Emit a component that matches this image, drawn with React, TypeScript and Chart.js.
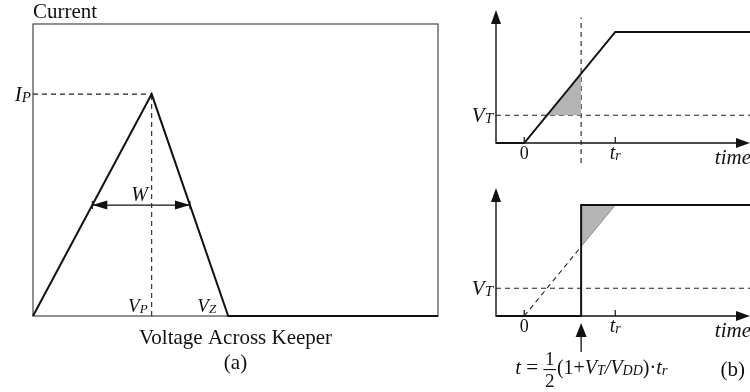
import React, { useEffect, useRef } from "react";
import { Chart, registerables } from "chart.js";

Chart.register(...registerables);

const WIDTH = 750;
const HEIGHT = 392;
const SERIF = '"Liberation Serif", "Times New Roman", Times, serif';
const INK = "#111";
const GUIDE = "#222";
const SHADE = "#b4b4b4";

// (a) keeper current versus the voltage across it
const keeperVoltage = [0, 2.93, 4.82, 10];
const keeperCurrent = [0, 7.6, 0, 0];
const voltageRange = [0, 10];
const currentRange = [0, 10];

// (b) input ramp and its equivalent step
const vThreshold = 0.25; // VT / VDD
const riseTime = 1; // tr
const timeRange = [-0.31, 2.48];
const rampTime = [timeRange[0], 0, riseTime, timeRange[1]];
const rampLevel = [0, 0, 1, 1];
const switchTime = 0.5 * (1 + vThreshold) * riseTime;
const stepTime = [timeRange[0], switchTime, switchTime, timeRange[1]];
const stepLevel = [0, 0, 1, 1];
const topLevelRange = [-0.18, 1.18];
const bottomLevelRange = [-0.18, 1.135];
const guideTop = 1.13;
const timeTicks = [0, riseTime];

const peakIndex = 1;
const peakVoltage = keeperVoltage[peakIndex];
const peakCurrent = keeperCurrent[peakIndex];
const zeroVoltage = keeperVoltage[2];
const halfCurrent = peakCurrent / 2;
const halfLeft = peakVoltage / 2;
const halfRight = peakVoltage + (zeroVoltage - peakVoltage) / 2;

const pts = (xs: number[], ys: number[]) => xs.map((x, i) => ({ x, y: ys[i] }));

const series = (data: { x: number; y: number }[], extra: any = {}) => ({
  data,
  showLine: true,
  pointRadius: 0,
  pointHoverRadius: 0,
  borderColor: INK,
  borderWidth: 2,
  fill: false,
  clip: false,
  tension: 0,
  ...extra,
});

const dashed = (data: { x: number; y: number }[]) =>
  series(data, { borderColor: GUIDE, borderWidth: 1.1, borderDash: [5, 4] });

type Run = { text: string; size: number; italic?: boolean; dy?: number };

function runsWidth(ctx: CanvasRenderingContext2D, runs: Run[]) {
  let w = 0;
  for (const r of runs) {
    ctx.font = `${r.italic ? "italic " : ""}${r.size}px ${SERIF}`;
    w += ctx.measureText(r.text).width;
  }
  return w;
}

function drawRuns(
  ctx: CanvasRenderingContext2D,
  runs: Run[],
  x: number,
  y: number,
  align: "left" | "right" | "center" = "left"
) {
  const total = runsWidth(ctx, runs);
  let cx = align === "left" ? x : align === "right" ? x - total : x - total / 2;
  ctx.textAlign = "left";
  ctx.textBaseline = "alphabetic";
  ctx.fillStyle = INK;
  for (const r of runs) {
    ctx.font = `${r.italic ? "italic " : ""}${r.size}px ${SERIF}`;
    ctx.fillText(r.text, cx, y + (r.dy || 0));
    cx += ctx.measureText(r.text).width;
  }
  return cx;
}

const symbol = (main: string, sub: string, size = 20): Run[] => [
  { text: main, size, italic: true },
  { text: sub, size: Math.round(size * 0.7), italic: true, dy: 1 },
];

function arrowHead(
  ctx: CanvasRenderingContext2D,
  tipX: number,
  tipY: number,
  dx: number,
  dy: number,
  len: number,
  half: number
) {
  const bx = tipX - dx * len;
  const by = tipY - dy * len;
  ctx.beginPath();
  ctx.moveTo(tipX, tipY);
  ctx.lineTo(bx - dy * half, by + dx * half);
  ctx.lineTo(bx + dy * half, by - dx * half);
  ctx.closePath();
  ctx.fillStyle = INK;
  ctx.fill();
}

const baseOptions = (
  padding: { left: number; right: number; top: number; bottom: number },
  xr: number[],
  yr: number[]
): any => ({
  responsive: false,
  animation: false,
  devicePixelRatio: 1,
  events: [],
  layout: { padding },
  plugins: { legend: { display: false }, tooltip: { enabled: false } },
  scales: {
    x: { type: "linear", min: xr[0], max: xr[1], display: false },
    y: { type: "linear", min: yr[0], max: yr[1], display: false },
  },
});

// Draws the L-shaped time axes of a (b) panel with their arrowheads and ticks
const axesPlugin = {
  id: "timeAxes",
  beforeDatasetsDraw(chart: any) {
    const { ctx, scales } = chart;
    const { x, y } = scales;
    const x0 = x.getPixelForValue(timeRange[0]);
    const x1 = x.getPixelForValue(timeRange[1]);
    const y0 = y.getPixelForValue(0);
    const yTop = chart.chartArea.top - 2;
    ctx.save();
    ctx.strokeStyle = INK;
    ctx.lineWidth = 1.4;
    ctx.beginPath();
    ctx.moveTo(x0, yTop + 8);
    ctx.lineTo(x0, y0);
    ctx.lineTo(x1 - 8, y0);
    ctx.stroke();
    arrowHead(ctx, x0, yTop, 0, -1, 14, 5);
    arrowHead(ctx, x1, y0, 1, 0, 14, 5);
    ctx.lineWidth = 1.2;
    for (const t of timeTicks) {
      const px = x.getPixelForValue(t);
      ctx.beginPath();
      ctx.moveTo(px, y0);
      ctx.lineTo(px, y0 - 6);
      ctx.stroke();
    }
    ctx.restore();
  },
};

const timeLabels = (chart: any) => {
  const { ctx, scales } = chart;
  const { x, y } = scales;
  const y0 = y.getPixelForValue(0);
  const xAxis = x.getPixelForValue(timeRange[0]);
  drawRuns(ctx, symbol("V", "T", 21), xAxis - 3, y.getPixelForValue(vThreshold) + 7, "right");
  drawRuns(ctx, [{ text: "0", size: 18 }], x.getPixelForValue(0), y0 + 16, "center");
  drawRuns(ctx, symbol("t", "r", 20), x.getPixelForValue(riseTime), y0 + 16, "center");
  drawRuns(ctx, [{ text: "time", size: 21, italic: true }], x.getPixelForValue(timeRange[1]) + 1, y0 + 21, "right");
};

export default function App() {
  const refA = useRef<HTMLCanvasElement>(null);
  const refTop = useRef<HTMLCanvasElement>(null);
  const refBottom = useRef<HTMLCanvasElement>(null);

  useEffect(() => {
    document.body.style.margin = "0";
    const charts: Chart[] = [];

    // (a) keeper characteristic in a framed plot
    charts.push(
      new Chart(refA.current as HTMLCanvasElement, {
        type: "scatter",
        data: {
          datasets: [
            series(pts(keeperVoltage, keeperCurrent)),
            dashed([
              { x: voltageRange[0], y: peakCurrent },
              { x: peakVoltage, y: peakCurrent },
            ]),
            dashed([
              { x: peakVoltage, y: 0 },
              { x: peakVoltage, y: peakCurrent },
            ]),
            series(
              [
                { x: halfLeft, y: halfCurrent },
                { x: halfRight, y: halfCurrent },
              ],
              { borderWidth: 1.2 }
            ),
          ] as any,
        },
        options: baseOptions(
          { left: 33, right: WIDTH - 438, top: 24, bottom: HEIGHT - 316 },
          voltageRange,
          currentRange
        ),
        plugins: [
          {
            id: "keeperFrame",
            beforeDatasetsDraw(chart: any) {
              const { ctx, chartArea: a } = chart;
              ctx.save();
              ctx.strokeStyle = "#555";
              ctx.lineWidth = 1.3;
              ctx.strokeRect(a.left, a.top, a.right - a.left, a.bottom - a.top);
              ctx.restore();
            },
            afterDatasetsDraw(chart: any) {
              const { ctx, chartArea: a, scales } = chart;
              const { x, y } = scales;
              ctx.save();
              const yW = y.getPixelForValue(halfCurrent);
              const xl = x.getPixelForValue(halfLeft);
              const xr = x.getPixelForValue(halfRight);
              arrowHead(ctx, xl, yW, -1, 0, 15, 4.5);
              arrowHead(ctx, xr, yW, 1, 0, 15, 4.5);
              ctx.strokeStyle = INK;
              ctx.lineWidth = 1;
              for (const px of [xl, xr]) {
                ctx.beginPath();
                ctx.moveTo(px, yW - 4);
                ctx.lineTo(px, yW + 4);
                ctx.stroke();
              }
              const xP = x.getPixelForValue(peakVoltage);
              const xZ = x.getPixelForValue(zeroVoltage);
              drawRuns(ctx, [{ text: "Current", size: 21 }], a.left, a.top - 6);
              drawRuns(ctx, symbol("I", "P", 21), a.left - 2, y.getPixelForValue(peakCurrent) + 7, "right");
              drawRuns(ctx, [{ text: "W", size: 20, italic: true }], xP - 12, yW - 4, "center");
              drawRuns(ctx, symbol("V", "P", 19), xP - 4, a.bottom - 4, "right");
              drawRuns(ctx, symbol("V", "Z", 19), xZ - 12, a.bottom - 4, "right");
              const cx = (a.left + a.right) / 2;
              drawRuns(ctx, [{ text: "Voltage Across Keeper", size: 21 }], cx, a.bottom + 28, "center");
              drawRuns(ctx, [{ text: "(a)", size: 21 }], cx, a.bottom + 53, "center");
              ctx.restore();
            },
          },
        ],
      })
    );

    // (b) upper: ramp input with threshold and switching instant
    charts.push(
      new Chart(refTop.current as HTMLCanvasElement, {
        type: "scatter",
        data: {
          datasets: [
            series(pts(rampTime, rampLevel)),
            series(
              [
                { x: vThreshold * riseTime, y: vThreshold },
                { x: switchTime, y: switchTime / riseTime },
              ],
              { borderWidth: 0, backgroundColor: SHADE, fill: { value: vThreshold } }
            ),
            dashed([
              { x: timeRange[0], y: vThreshold },
              { x: timeRange[1], y: vThreshold },
            ]),
            dashed([
              { x: switchTime, y: topLevelRange[0] },
              { x: switchTime, y: guideTop },
            ]),
          ] as any,
        },
        options: baseOptions(
          { left: 496, right: 0, top: 12, bottom: HEIGHT - 163 },
          timeRange,
          topLevelRange
        ),
        plugins: [
          axesPlugin,
          {
            id: "rampLabels",
            afterDatasetsDraw(chart: any) {
              chart.ctx.save();
              timeLabels(chart);
              chart.ctx.restore();
            },
          },
        ],
      })
    );

    // (b) lower: equivalent step input
    charts.push(
      new Chart(refBottom.current as HTMLCanvasElement, {
        type: "scatter",
        data: {
          datasets: [
            series(pts(stepTime, stepLevel)),
            series(
              [
                { x: switchTime, y: switchTime / riseTime },
                { x: riseTime, y: 1 },
              ],
              { borderWidth: 0.8, borderColor: "#777", backgroundColor: SHADE, fill: { value: 1 } }
            ),
            dashed([
              { x: 0, y: 0 },
              { x: switchTime, y: switchTime / riseTime },
            ]),
            dashed([
              { x: timeRange[0], y: vThreshold },
              { x: timeRange[1], y: vThreshold },
            ]),
          ] as any,
        },
        options: baseOptions(
          { left: 496, right: 0, top: 190, bottom: HEIGHT - 336 },
          timeRange,
          bottomLevelRange
        ),
        plugins: [
          axesPlugin,
          {
            id: "stepLabels",
            afterDatasetsDraw(chart: any) {
              const { ctx, scales } = chart;
              const { x, y } = scales;
              ctx.save();
              timeLabels(chart);
              const y0 = y.getPixelForValue(0);
              const xs = x.getPixelForValue(switchTime);
              ctx.strokeStyle = INK;
              ctx.lineWidth = 1.3;
              ctx.beginPath();
              ctx.moveTo(xs, y0 + 18);
              ctx.lineTo(xs, y0 + 36);
              ctx.stroke();
              arrowHead(ctx, xs, y0 + 7, 0, -1, 14, 5.5);

              // t = ½(1 + VT/VDD)·tr
              const base = y0 + 58;
              let cx = drawRuns(
                ctx,
                [
                  { text: "t", size: 21, italic: true },
                  { text: " = ", size: 21 },
                ],
                x.getPixelForValue(0) - 9,
                base
              );
              ctx.font = `19px ${SERIF}`;
              const fw = ctx.measureText("2").width + 3;
              drawRuns(ctx, [{ text: "1", size: 19 }], cx + fw / 2, base - 9, "center");
              drawRuns(ctx, [{ text: "2", size: 19 }], cx + fw / 2, base + 13, "center");
              ctx.fillStyle = INK;
              ctx.fillRect(cx, base - 5, fw, 1.1);
              cx += fw + 1;
              drawRuns(
                ctx,
                [
                  { text: "(1+", size: 20 },
                  { text: "V", size: 20, italic: true },
                  { text: "T", size: 14, italic: true, dy: 1 },
                  { text: "/V", size: 20, italic: true },
                  { text: "DD", size: 14, italic: true, dy: 1 },
                  { text: ")\u00b7", size: 20 },
                  { text: "t", size: 20, italic: true },
                  { text: "r", size: 15, italic: true, dy: 1 },
                ],
                cx,
                base
              );
              drawRuns(ctx, [{ text: "(b)", size: 21 }], WIDTH - 5, base + 2, "right");
              ctx.restore();
            },
          },
        ],
      })
    );

    return () => charts.forEach((c) => c.destroy());
  }, []);

  const canvasStyle: React.CSSProperties = { position: "absolute", left: 0, top: 0 };
  return (
    <div style={{ position: "absolute", left: 0, top: 0, width: WIDTH, height: HEIGHT, background: "#fff", overflow: "hidden" }}>
      <canvas ref={refA} width={WIDTH} height={HEIGHT} style={canvasStyle} />
      <canvas ref={refTop} width={WIDTH} height={HEIGHT} style={canvasStyle} />
      <canvas ref={refBottom} width={WIDTH} height={HEIGHT} style={canvasStyle} />
    </div>
  );
}
